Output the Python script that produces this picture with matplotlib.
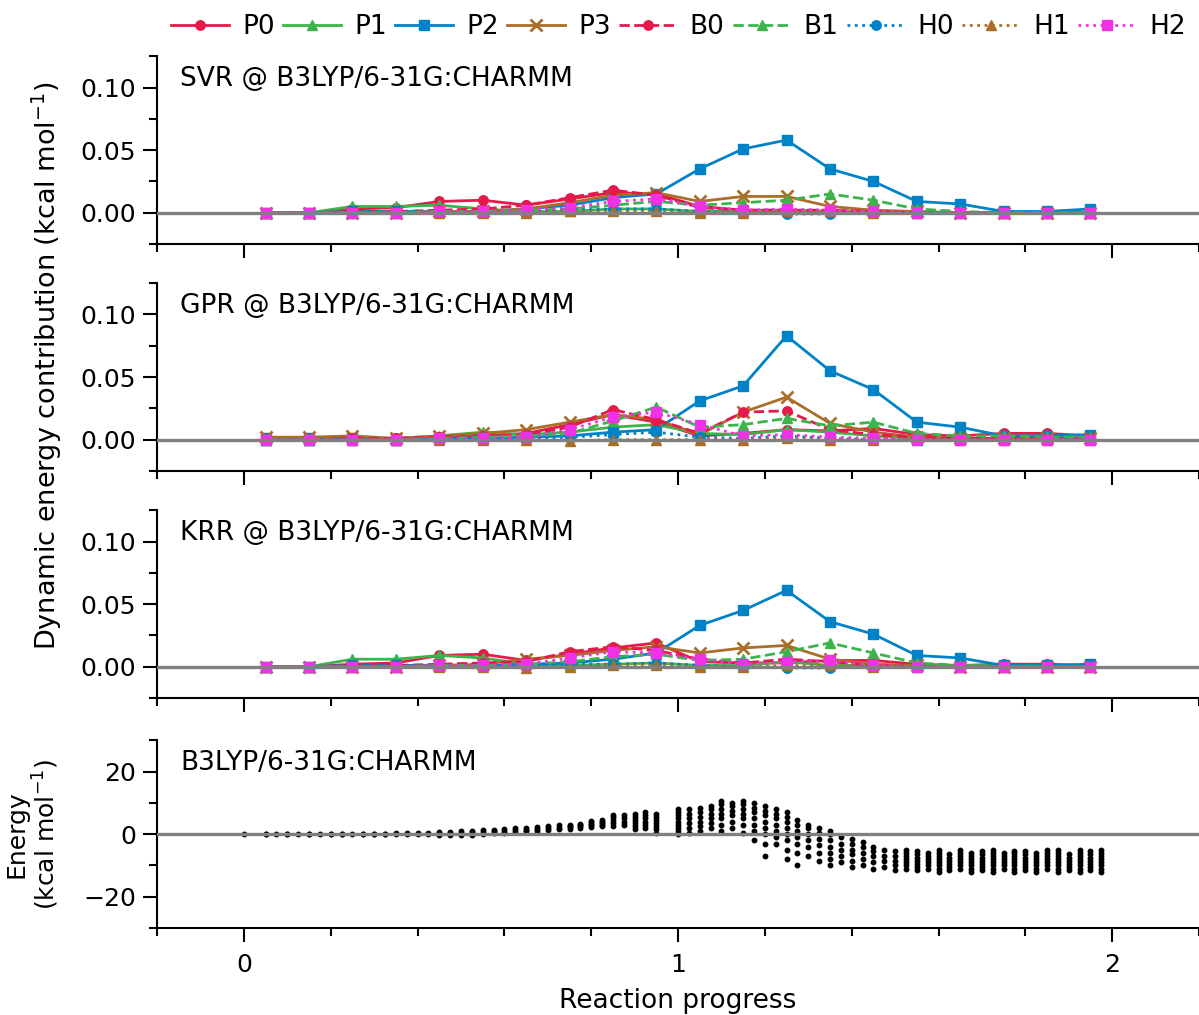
import matplotlib
matplotlib.use("Agg")
import matplotlib.pyplot as plt
from matplotlib.ticker import MultipleLocator

plt.rcParams['font.family'] = ['DejaVu Sans']
plt.rcParams['font.size'] = 18

# reaction progress of the snapshots used for the contributions
progress = [0.05, 0.15, 0.25, 0.35, 0.45, 0.55, 0.65, 0.75, 0.85, 0.95,
            1.05, 1.15, 1.25, 1.35, 1.45, 1.55, 1.65, 1.75, 1.85, 1.95]

names = ['P0', 'P1', 'P2', 'P3', 'B0', 'B1', 'H0', 'H1', 'H2']

# SVR
svr_p0 = [0.000, 0.000, 0.003, 0.004, 0.009, 0.010, 0.006, 0.011, 0.016, 0.015, 0.005, 0.002, 0.002, 0.001, 0.001, 0.000, 0.000, 0.000, 0.000, 0.000]
svr_p1 = [0.000, 0.000, 0.005, 0.005, 0.006, 0.003, 0.001, 0.001, 0.003, 0.003, 0.001, 0.001, 0.002, 0.001, 0.001, 0.000, 0.000, 0.000, 0.000, 0.000]
svr_p2 = [0.000, 0.000, 0.001, 0.001, 0.001, 0.001, 0.003, 0.006, 0.012, 0.015, 0.035, 0.051, 0.058, 0.035, 0.025, 0.009, 0.007, 0.001, 0.001, 0.003]
svr_p3 = [0.000, 0.000, 0.000, 0.000, 0.001, 0.001, 0.003, 0.008, 0.014, 0.016, 0.009, 0.013, 0.013, 0.005, 0.002, 0.001, 0.000, 0.000, 0.000, 0.000]
svr_b0 = [0.000, 0.000, 0.001, 0.001, 0.002, 0.003, 0.006, 0.012, 0.018, 0.014, 0.004, 0.002, 0.002, 0.002, 0.001, 0.000, 0.000, 0.000, 0.000, 0.000]
svr_b1 = [0.000, 0.000, 0.000, 0.000, 0.001, 0.001, 0.002, 0.003, 0.006, 0.009, 0.006, 0.008, 0.010, 0.015, 0.010, 0.003, 0.001, 0.000, 0.000, 0.000]
svr_h0 = [0.000, 0.000, 0.001, 0.001, 0.001, 0.001, 0.001, 0.002, 0.003, 0.003, 0.001, 0.000, -0.001, -0.001, 0.000, 0.000, 0.000, 0.000, 0.000, 0.000]
svr_h1 = [0.000, 0.000, 0.000, 0.000, 0.000, 0.000, 0.000, 0.001, 0.001, 0.001, 0.000, 0.000, 0.001, 0.001, 0.000, 0.000, 0.000, 0.000, 0.000, 0.000]
svr_h2 = [0.000, 0.000, 0.000, 0.000, 0.001, 0.001, 0.002, 0.004, 0.009, 0.011, 0.005, 0.002, 0.003, 0.002, 0.001, 0.000, 0.000, 0.000, 0.000, 0.000]

# GPR
gpr_p0 = [0.001, 0.001, 0.001, 0.001, 0.002, 0.003, 0.005, 0.012, 0.020, 0.014, 0.003, 0.005, 0.008, 0.007, 0.009, 0.004, 0.003, 0.005, 0.005, 0.003]
gpr_p1 = [0.000, 0.000, 0.001, 0.001, 0.003, 0.006, 0.004, 0.006, 0.010, 0.012, 0.005, 0.004, 0.008, 0.006, 0.003, 0.001, 0.001, 0.001, 0.001, 0.001]
gpr_p2 = [0.001, 0.001, 0.001, 0.000, 0.001, 0.001, 0.002, 0.003, 0.006, 0.008, 0.031, 0.043, 0.083, 0.055, 0.040, 0.014, 0.010, 0.003, 0.003, 0.004]
gpr_p3 = [0.002, 0.002, 0.003, 0.001, 0.003, 0.005, 0.008, 0.014, 0.020, 0.016, 0.004, 0.022, 0.034, 0.013, 0.006, 0.002, 0.001, 0.001, 0.001, 0.001]
gpr_b0 = [0.000, 0.000, 0.001, 0.001, 0.002, 0.003, 0.004, 0.010, 0.024, 0.016, 0.005, 0.022, 0.023, 0.008, 0.004, 0.002, 0.001, 0.001, 0.001, 0.001]
gpr_b1 = [0.000, 0.000, 0.000, 0.000, 0.001, 0.002, 0.003, 0.005, 0.015, 0.026, 0.010, 0.012, 0.017, 0.011, 0.014, 0.005, 0.003, 0.003, 0.002, 0.002]
gpr_h0 = [0.000, 0.000, 0.000, 0.000, 0.001, 0.001, 0.001, 0.002, 0.004, 0.006, 0.002, 0.001, 0.003, 0.001, 0.000, 0.000, 0.000, 0.000, 0.000, 0.000]
gpr_h1 = [0.000, 0.000, 0.000, 0.000, 0.000, 0.000, 0.000, -0.001, 0.000, 0.000, 0.000, 0.000, 0.001, 0.000, 0.000, 0.000, 0.000, 0.000, 0.000, 0.000]
gpr_h2 = [0.000, 0.000, 0.000, 0.000, 0.001, 0.001, 0.002, 0.008, 0.018, 0.022, 0.012, 0.003, 0.004, 0.002, 0.001, 0.000, 0.000, 0.000, 0.000, 0.000]

# KRR
krr_p0 = [0.000, 0.000, 0.002, 0.003, 0.009, 0.010, 0.005, 0.010, 0.015, 0.019, 0.004, 0.003, 0.003, 0.005, 0.005, 0.002, 0.001, 0.002, 0.002, 0.001]
krr_p1 = [0.000, 0.000, 0.006, 0.006, 0.009, 0.007, 0.002, 0.001, 0.002, 0.003, 0.001, 0.001, 0.004, 0.001, 0.001, 0.001, 0.001, 0.001, 0.001, 0.001]
krr_p2 = [0.000, 0.000, 0.001, 0.001, 0.001, 0.001, 0.002, 0.003, 0.006, 0.011, 0.033, 0.045, 0.061, 0.036, 0.026, 0.009, 0.007, 0.001, 0.001, 0.002]
krr_p3 = [0.000, 0.000, 0.000, 0.000, 0.001, 0.002, 0.006, 0.009, 0.013, 0.016, 0.011, 0.015, 0.017, 0.006, 0.002, 0.001, 0.000, 0.000, 0.000, 0.000]
krr_b0 = [0.000, 0.000, 0.001, 0.001, 0.002, 0.003, 0.004, 0.012, 0.016, 0.013, 0.006, 0.003, 0.006, 0.004, 0.001, 0.000, 0.000, 0.000, 0.000, 0.000]
krr_b1 = [0.000, 0.000, 0.000, 0.000, 0.001, 0.001, 0.002, 0.004, 0.008, 0.010, 0.005, 0.006, 0.012, 0.019, 0.011, 0.003, 0.001, 0.000, 0.000, 0.000]
krr_h0 = [0.000, 0.000, 0.001, 0.001, 0.001, 0.001, 0.001, 0.002, 0.002, 0.003, 0.001, 0.000, -0.001, -0.001, 0.000, 0.000, 0.000, 0.000, 0.000, 0.000]
krr_h1 = [0.000, 0.000, 0.000, 0.000, 0.000, 0.000, -0.001, 0.000, 0.001, 0.001, 0.000, 0.000, 0.001, 0.001, 0.000, 0.000, 0.000, 0.000, 0.000, 0.000]
krr_h2 = [0.000, 0.000, 0.000, 0.000, 0.001, 0.001, 0.002, 0.007, 0.012, 0.011, 0.006, 0.002, 0.004, 0.005, 0.001, 0.000, 0.000, 0.000, 0.000, 0.000]

# energies along the path (one column per progress value)
energy_x = [0.000, 0.050, 0.075, 0.100, 0.125, 0.150, 0.175, 0.200, 0.225, 0.250,
            0.275, 0.300, 0.325, 0.350, 0.375, 0.400, 0.425, 0.450, 0.475, 0.500,
            0.525, 0.550, 0.575, 0.600, 0.625, 0.650, 0.675, 0.700, 0.725, 0.750,
            0.775, 0.800, 0.825, 0.850, 0.875, 0.900, 0.925, 0.950, 1.000, 1.025,
            1.050, 1.075, 1.100, 1.125, 1.150, 1.175, 1.200, 1.225, 1.250, 1.275,
            1.300, 1.325, 1.350, 1.375, 1.400, 1.425, 1.450, 1.475, 1.500, 1.525,
            1.550, 1.575, 1.600, 1.625, 1.650, 1.675, 1.700, 1.725, 1.750, 1.775,
            1.800, 1.825, 1.850, 1.875, 1.900, 1.925, 1.950, 1.975]
energy_vals = [
    [0.0], [0.0, 0.1], [0.0], [0.0, 0.1], [0.0], [0.0, 0.1], [0.0], [0.0, 0.1], [0.0, 0.1], [0.1],
    [0.0, 0.2], [0.1, 0.2], [0.1, 0.2], [0.1, 0.3], [0.2, 0.3], [0.2, 0.4], [0.2, 0.5], [0.3, 0.6, -0.3], [0.4, 0.7, -0.2], [0.5, 0.9, -0.4],
    [0.6, 1.0, -0.3], [0.8, 1.2, 0.2], [0.9, 1.4, 0.4], [1.0, 1.6, 0.5], [1.2, 1.8, 0.7], [1.4, 2.0, 0.9], [1.6, 2.3, 1.1], [1.8, 2.5, 1.3], [2.0, 2.8, 1.5], [2.2, 3.0, 1.7, 2.6],
    [2.5, 3.3, 2.0, 2.9], [2.8, 3.8, 2.2, 3.3, 4.2], [3.0, 4.0, 2.5, 3.5, 4.5], [2.5, 3.5, 4.5, 5.5, 6.0], [3.0, 4.0, 5.0, 6.0], [1.5, 2.5, 3.5, 4.5, 5.5, 6.5], [2.0, 3.0, 4.0, 5.0, 6.0, 7.0], [0.5, 1.5, 2.5, 3.5, 4.5, 5.5, 6.5], [0.0, 1.0, 2.0, 3.0, 4.0, 5.0, 6.0, 7.0, 8.0], [0.5, 2.0, 3.5, 5.0, 6.5, 8.0],
    [1.0, 2.5, 4.0, 5.5, 7.0, 8.5], [2.0, 3.5, 5.0, 6.5, 8.0, 9.0], [1.0, 3.0, 5.0, 6.5, 8.0, 9.5, 10.5], [2.0, 4.0, 6.0, 7.5, 9.0, 10.0], [0.5, 3.0, 5.0, 6.5, 8.0, 9.5, 10.5], [-2.0, 1.0, 3.0, 5.0, 7.0, 8.5, 10.0], [-7.0, -3.0, 0.0, 2.0, 4.0, 6.0, 7.5, 9.0], [-3.0, -1.0, 1.0, 3.0, 5.0, 6.5, 8.0], [-8.0, -5.0, -2.0, 0.0, 2.0, 4.0, 5.5, 7.0], [-10.0, -6.0, -3.0, -1.0, 1.0, 3.0, 4.5],
    [-7.0, -4.0, -2.0, 0.0, 2.0, 3.0], [-8.5, -6.0, -3.5, -1.5, 0.5, 2.0], [-10.0, -8.0, -6.0, -4.0, -2.0, 0.0, 1.0], [-9.0, -7.0, -5.0, -3.0, -1.0], [-10.5, -8.5, -6.5, -5.0, -3.0, -1.5], [-10.0, -8.0, -6.0, -4.0, -2.5], [-11.0, -9.0, -7.0, -5.5, -4.0], [-10.5, -8.5, -7.0, -5.0], [-11.5, -10.0, -8.5, -7.0, -5.5], [-11.0, -10.0, -9.0, -8.0, -7.0, -6.0, -5.0],
    [-11.5, -10.5, -9.5, -8.5, -7.5, -6.5, -5.5], [-11.0, -10.0, -9.0, -8.0, -7.0, -6.0], [-12.0, -11.0, -10.0, -9.0, -8.0, -7.0, -6.0, -5.0], [-11.5, -10.5, -9.5, -8.5, -7.5, -6.5], [-11.0, -10.0, -9.0, -8.0, -7.0, -6.0, -5.0], [-12.0, -11.0, -10.0, -9.0, -8.0, -7.0, -6.0], [-11.5, -10.5, -9.5, -8.5, -7.5, -6.5, -5.5], [-12.0, -11.0, -10.0, -9.0, -8.0, -7.0, -6.0, -5.0], [-11.0, -10.0, -9.0, -8.0, -7.0, -6.0], [-12.0, -11.0, -10.0, -9.0, -8.0, -7.0, -6.0, -5.5],
    [-11.5, -10.5, -9.5, -8.5, -7.5, -6.5, -5.5], [-12.0, -11.0, -10.0, -9.0, -8.0, -7.0, -6.0], [-11.0, -10.0, -9.0, -8.0, -7.0, -6.0, -5.0], [-12.0, -11.0, -10.0, -9.0, -8.0, -7.0, -6.0, -5.0], [-11.5, -10.5, -9.5, -8.5, -7.5, -6.5], [-12.0, -11.0, -10.0, -9.0, -8.0, -7.0, -6.0, -5.0], [-11.5, -10.5, -9.5, -8.5, -7.5, -6.5, -5.5], [-12.0, -11.0, -10.0, -9.0, -8.0, -7.0, -6.0, -5.0],
]

colors = ['#e6194b', '#3cb44b', '#0082c8', '#aa6e28', '#e6194b', '#3cb44b', '#0082c8', '#aa6e28', '#f032e6']
markers = ['o', '^', 's', 'x', 'o', '^', 'o', '^', 's']
styles = ['-', '-', '-', '-', '--', '--', ':', ':', ':']

panels = [
    ('SVR @ B3LYP/6-31G:CHARMM', [svr_p0, svr_p1, svr_p2, svr_p3, svr_b0, svr_b1, svr_h0, svr_h1, svr_h2]),
    ('GPR @ B3LYP/6-31G:CHARMM', [gpr_p0, gpr_p1, gpr_p2, gpr_p3, gpr_b0, gpr_b1, gpr_h0, gpr_h1, gpr_h2]),
    ('KRR @ B3LYP/6-31G:CHARMM', [krr_p0, krr_p1, krr_p2, krr_p3, krr_b0, krr_b1, krr_h0, krr_h1, krr_h2]),
]

fig = plt.figure(figsize=(11.99, 10.15), dpi=100)
bottoms = [0.7596, 0.5360, 0.3123, 0.0857]
axes = [fig.add_axes([0.131, b, 0.869, 0.1850]) for b in bottoms]


def style_axis(ax):
    for s in ['top', 'right']:
        ax.spines[s].set_visible(False)
    ax.spines['left'].set_linewidth(1.5)
    ax.spines['bottom'].set_linewidth(1.5)
    ax.set_xlim(-0.2, 2.2)
    ax.xaxis.set_major_locator(MultipleLocator(1))
    ax.xaxis.set_minor_locator(MultipleLocator(0.2))
    ax.tick_params(which='major', length=10, width=1.5, labelsize=18, pad=8)
    ax.tick_params(which='minor', length=6, width=1.5)
    ax.axhline(0, color='gray', lw=2.4, zorder=3)


handles = []
for ax, (title, series) in zip(axes[:3], panels):
    for name, vals, c, m, ls in zip(names, series, colors, markers, styles):
        ms = 8 if m == 'x' else 6.8
        h, = ax.plot(progress, vals, color=c, marker=m, ls=ls, lw=2, ms=ms,
                     mew=2 if m == 'x' else 1, label=name)
        if ax is axes[0]:
            handles.append(h)
    style_axis(ax)
    ax.set_ylim(-0.025, 0.125)
    ax.yaxis.set_major_locator(MultipleLocator(0.05))
    ax.yaxis.set_minor_locator(MultipleLocator(0.025))
    ax.yaxis.set_major_formatter(plt.FormatStrFormatter('%.2f'))
    ax.tick_params(axis='y', pad=5)
    ax.tick_params(axis='x', labelbottom=False)
    ax.text(0.022, 0.95, title, transform=ax.transAxes, va='top', ha='left', fontsize=19)

ax = axes[3]
for x, vals in zip(energy_x, energy_vals):
    ax.plot([x] * len(vals), vals, 'o', color='black', ms=3.2, ls='none', zorder=2)
style_axis(ax)
ax.tick_params(axis='y', pad=5)
ax.set_ylim(-30, 30)
ax.yaxis.set_major_locator(MultipleLocator(20))
ax.yaxis.set_minor_locator(MultipleLocator(10))
ax.text(0.022, 0.95, 'B3LYP/6-31G:CHARMM', transform=ax.transAxes, va='top', ha='left', fontsize=19)
ax.set_xlabel('Reaction progress', fontsize=19, labelpad=8)
ax.set_ylabel('Energy\n(kcal mol$^{-1}$)', fontsize=18, multialignment='center', linespacing=1.1)
ax.yaxis.set_label_coords(-0.092, 0.5)

fig.text(0.039, 0.64, 'Dynamic energy contribution (kcal mol$^{-1}$)', rotation=90,
         va='center', ha='center', fontsize=19.5)

fig.legend(handles=handles, loc='center right', bbox_to_anchor=(0.998, 0.973), ncol=9,
           frameon=False, fontsize=19, handlelength=2.2, handletextpad=0.5,
           columnspacing=0.3, borderaxespad=0)

fig.savefig('out.png', dpi=100)
